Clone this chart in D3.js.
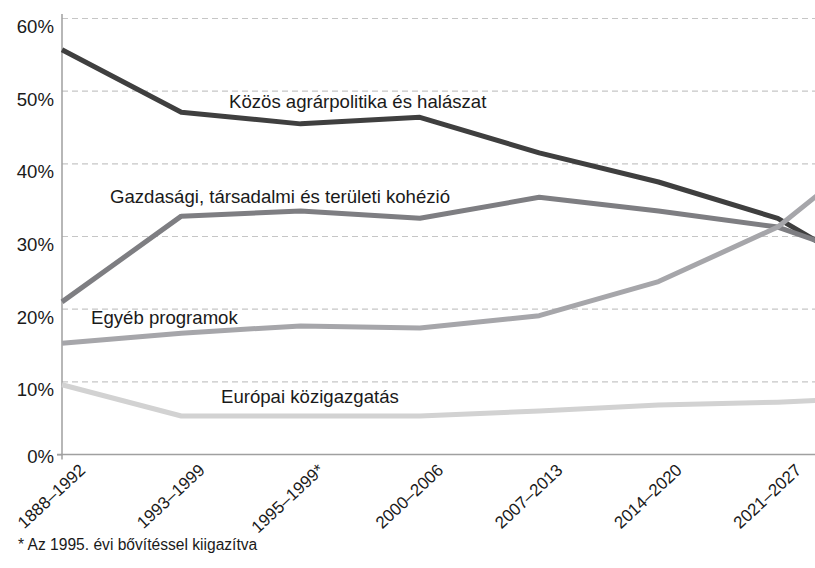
<!DOCTYPE html>
<html>
<head>
<meta charset="utf-8">
<script src="https://cdn.jsdelivr.net/npm/d3@7"></script>
<style>
  html, body { margin: 0; padding: 0; background: #fff; }
  svg { display: block; font-family: "Liberation Sans", Arial, sans-serif; }
</style>
</head>
<body>
<svg id="chart" width="815" height="568"></svg>
<script>
// Categories (the 8th period lies beyond the cropped right edge of the original)
const categories = ["1888–1992", "1993–1999", "1995–1999*", "2000–2006", "2007–2013", "2014–2020", "2021–2027", ""];

// Series values (% share)
const agri     = [55.7, 47.1, 45.5, 46.4, 41.5, 37.5, 32.5, 22.9];
const cohesion = [21.0, 32.8, 33.5, 32.5, 35.4, 33.5, 31.3, 25.5];
const other    = [15.3, 16.7, 17.7, 17.4, 19.1, 23.8, 31.3, 44.5];
const admin    = [9.6, 5.3, 5.3, 5.3, 6.0, 6.8, 7.2, 7.9];

const seriesNames = [
  "Közös agrárpolitika és halászat",
  "Gazdasági, társadalmi és területi kohézió",
  "Egyéb programok",
  "Európai közigazgatás"
];
const yTicks = [0, 10, 20, 30, 40, 50, 60];
const footnote = "* Az 1995. évi bővítéssel kiigazítva";

const svg = d3.select("#chart");
const x0 = 62, y0 = 454.5, yTop = 18.5;
const step = 119.3;
const FONT = "Liberation Sans, Arial, sans-serif";

const x = d3.scalePoint().domain(d3.range(categories.length)).range([x0, x0 + step * (categories.length - 1)]);
const y = d3.scaleLinear().domain([0, 60]).range([y0, yTop]);

// gridlines
svg.append("g").selectAll("line").data(yTicks.filter(d => d > 0)).join("line")
  .attr("x1", x0).attr("x2", 815)
  .attr("y1", d => y(d)).attr("y2", d => y(d))
  .attr("stroke", "#c6c6c6").attr("stroke-width", 1.2)
  .attr("stroke-dasharray", "6,4");

// y axis
const yAxis = d3.axisLeft(y).tickValues(yTicks).tickFormat(d => d + "%").tickSize(5).tickPadding(4);
const gy = svg.append("g").attr("transform", `translate(${x0},0)`).call(yAxis);
gy.select(".domain").attr("stroke", "#a0a0a0").attr("stroke-width", 1.5).attr("d", `M-5,${y0}H0V14`);
gy.selectAll(".tick line").attr("stroke", d => d === 0 ? "#a0a0a0" : "none");
gy.selectAll(".tick text")
  .attr("font-size", 18.6).attr("fill", "#1a1a1a")
  .attr("font-family", FONT)
  .attr("x", -8)
  .attr("dy", d => d === 0 ? "0.45em" : "0.75em");

// x axis
const xAxis = d3.axisBottom(x).tickFormat(i => categories[i]).tickSize(0);
const gx = svg.append("g").attr("transform", `translate(0,${y0})`).call(xAxis);
gx.select(".domain").attr("stroke", "#a0a0a0").attr("stroke-width", 1.5).attr("d", `M${x0},5V0H815`);
gx.selectAll(".tick text")
  .attr("font-size", 17).attr("fill", "#1a1a1a")
  .attr("font-family", FONT)
  .attr("text-anchor", "end")
  .attr("x", 0).attr("y", 0).attr("dy", 0)
  .attr("transform", "translate(24,17) rotate(-43)");

// lines
const series = [
  { values: agri,     color: "#3f3f3f" },
  { values: cohesion, color: "#7e7e82" },
  { values: admin,    color: "#d2d2d2" },
  { values: other,    color: "#a6a6aa" }
];
const line = d3.line().x((d, i) => x(i)).y(d => y(d));
svg.append("g").selectAll("path").data(series).join("path")
  .attr("d", d => line(d.values))
  .attr("fill", "none")
  .attr("stroke", d => d.color)
  .attr("stroke-width", 5)
  .attr("stroke-linejoin", "round");

// series labels
const labelPos = [
  { name: seriesNames[0], x: 229, y: 108 },
  { name: seriesNames[1], x: 110, y: 203 },
  { name: seriesNames[2], x: 91, y: 324 },
  { name: seriesNames[3], x: 221, y: 403 }
];
svg.append("g").selectAll("text").data(labelPos).join("text")
  .attr("x", d => d.x).attr("y", d => d.y)
  .attr("font-size", 18.6).attr("fill", "#1a1a1a")
  .attr("font-family", FONT)
  .text(d => d.name);

// footnote
svg.append("text").attr("x", 18).attr("y", 550)
  .attr("font-size", 15.6).attr("fill", "#1a1a1a")
  .attr("font-family", FONT)
  .text(footnote);
</script>
</body>
</html>
